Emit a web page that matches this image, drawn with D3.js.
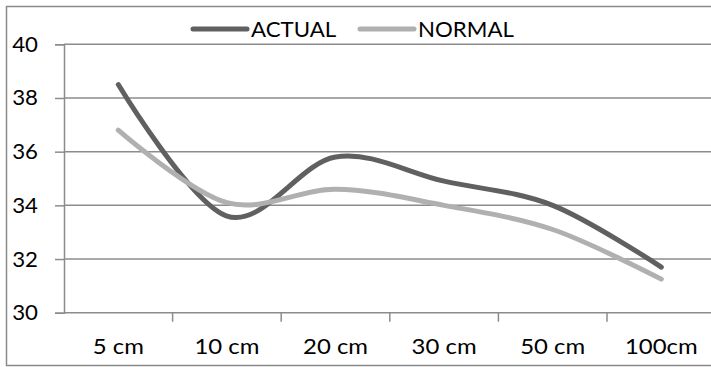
<!DOCTYPE html>
<html>
<head>
<meta charset="utf-8">
<script src="https://cdn.jsdelivr.net/npm/d3@7"></script>
<style>
  html, body { margin: 0; padding: 0; background: #fff; }
  svg { display: block; }
  text { font-family: Lato, "Open Sans", sans-serif; fill: #000; }
</style>
</head>
<body>
<svg id="chart" width="711" height="367"></svg>
<script>
// Soil temperature by depth
const depths = ["5 cm", "10 cm", "20 cm", "30 cm", "50 cm", "100cm"];
const actual = [38.5, 33.6, 35.8, 34.9, 34.0, 31.7];
const normal = [36.8, 34.1, 34.6, 34.0, 33.1, 31.25];
const yTicks = [30, 32, 34, 36, 38, 40];
const seriesNames = ["ACTUAL", "NORMAL"];
const seriesColors = ["#606060", "#b0b0b0"];

const svg = d3.select("#chart");
const plotLeft = 64, plotTop = 44.3, plotBottom = 312.7;
const band = 108.6;
const plotRight = plotLeft + band * depths.length;
const fontSize = 21;

// text placed at (x, y) and widened horizontally around its anchor
function label(sel, x, y, anchor, str, stretch) {
  return sel.append("text")
    .attr("transform", `translate(${x},${y}) scale(${stretch},1)`)
    .attr("text-anchor", anchor)
    .attr("font-size", fontSize)
    .text(str);
}

// outer frame
svg.append("rect")
  .attr("x", 6.5).attr("y", 6.5)
  .attr("width", 720).attr("height", 359)
  .attr("fill", "none").attr("stroke", "#8a8a8a").attr("stroke-width", 1.5);

const x = d3.scaleBand().domain(depths).range([plotLeft, plotRight]);
const y = d3.scaleLinear().domain([30, 40]).range([plotBottom, plotTop]);

// horizontal gridlines
svg.append("g").selectAll("line").data(yTicks.filter(v => v !== 30)).join("line")
  .attr("x1", plotLeft).attr("x2", plotRight)
  .attr("y1", d => y(d)).attr("y2", d => y(d))
  .attr("stroke", "#8c8c8c").attr("stroke-width", 1.5);

// y axis
const yAxis = svg.append("g").attr("transform", `translate(${plotLeft},0)`)
  .call(d3.axisLeft(y).tickValues(yTicks).tickSize(9).tickFormat(""));
yAxis.select(".domain").attr("stroke", "#8c8c8c").attr("stroke-width", 1.5);
yAxis.selectAll(".tick line").attr("stroke", "#8c8c8c").attr("stroke-width", 1.5);
yAxis.selectAll(".tick text").remove();
const yLabels = svg.append("g");
yTicks.forEach(v => label(yLabels, 38, y(v) + 7.5, "end", d3.format("d")(v), 1.06));

// x axis: ticks mark the category boundaries
const xAxis = svg.append("g").attr("transform", `translate(0,${plotBottom})`);
xAxis.append("line").attr("x1", plotLeft).attr("x2", plotRight)
  .attr("stroke", "#8c8c8c").attr("stroke-width", 1.5);
xAxis.selectAll(".bound").data(depths.slice(1)).join("line")
  .attr("class", "bound")
  .attr("x1", d => x(d)).attr("x2", d => x(d))
  .attr("y1", 0).attr("y2", 9)
  .attr("stroke", "#8c8c8c").attr("stroke-width", 1.5);
depths.forEach(d => label(xAxis, x(d) + x.bandwidth() / 2, 41.5, "middle", d, 1.14));

// smoothed series lines
const line = d3.line()
  .x((d, i) => x(depths[i]) + x.bandwidth() / 2)
  .y(d => y(d))
  .curve(d3.curveCardinal.tension(0));

[actual, normal].forEach((vals, k) => {
  svg.append("path")
    .datum(vals)
    .attr("d", line)
    .attr("fill", "none")
    .attr("stroke", seriesColors[k])
    .attr("stroke-width", 5)
    .attr("stroke-linecap", "round")
    .attr("stroke-linejoin", "round");
});

// legend
const legend = svg.append("g");
const legendX = [193, 360];
seriesNames.forEach((name, k) => {
  legend.append("line")
    .attr("x1", legendX[k]).attr("x2", legendX[k] + 54)
    .attr("y1", 29).attr("y2", 29)
    .attr("stroke", seriesColors[k]).attr("stroke-width", 5)
    .attr("stroke-linecap", "round");
  label(legend, legendX[k] + 58, 37, "start", name, 1.06);
});
</script>
</body>
</html>
